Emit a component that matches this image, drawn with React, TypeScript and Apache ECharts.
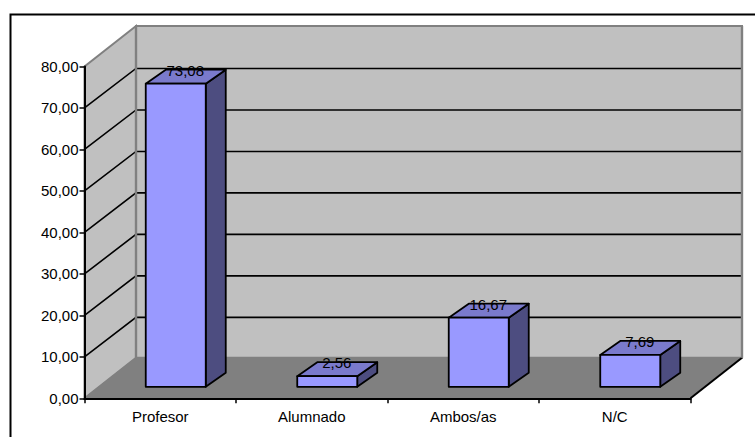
import React, { useEffect, useRef } from "react";
import * as echarts from "echarts";

const categories = ["Profesor", "Alumnado", "Ambos/as", "N/C"];
const values = [73.08, 2.56, 16.67, 7.69];
const valueLabels = ["73,08", "2,56", "16,67", "7,69"];
const gridValues = [10, 20, 30, 40, 50, 60, 70];
const yMin = 0;
const yMax = 80;
const yStep = 10;

const FONT = "'Liberation Sans', Arial, sans-serif";
const FONT_SIZE = 15;
const WALL_DX = 51.5;
const WALL_DY = -40.5;
const GRID_DY = -39.5;
const BAR_DX = 15.5;
const BAR_DY = -11.5;
const BAR_W = 60;
const SIDE_DX = 20;
const SIDE_DY = -14;
const comma = (v: number) => v.toFixed(2).replace(".", ",");

export default function App() {
  const ref = useRef<HTMLDivElement>(null);
  useEffect(() => {
    const chart = echarts.init(ref.current!, null, { renderer: "svg" });
    chart.setOption({
      animation: false,
      backgroundColor: "#ffffff",
      grid: { left: 84.5, right: 64.5, top: 66.5, bottom: 38.7 },
      graphic: [
        {
          type: "polyline",
          z: 0,
          shape: { points: [[10.5, 437], [10.5, 14.5], [755, 14.5]] },
          style: { stroke: "#000000", lineWidth: 2, fill: "none" },
        },
      ],
      xAxis: {
        type: "category",
        data: categories,
        z: 10,
        axisLine: { lineStyle: { color: "#000", width: 2 } },
        axisTick: { show: true, length: 5, lineStyle: { color: "#000", width: 1.5 } },
        axisLabel: { color: "#000", fontFamily: FONT, fontSize: FONT_SIZE, margin: 11 },
        splitLine: { show: false },
      },
      yAxis: {
        type: "value",
        min: yMin,
        max: yMax,
        interval: yStep,
        z: 10,
        axisLine: { show: true, lineStyle: { color: "#000", width: 2 } },
        axisTick: { show: true, length: 5, lineStyle: { color: "#000", width: 1.5 } },
        axisLabel: { color: "#000", fontFamily: FONT, fontSize: FONT_SIZE, margin: 6, formatter: comma },
        splitLine: { show: false },
      },
      series: [
        {
          type: "custom",
          z: 2,
          silent: true,
          data: [[0]],
          renderItem: (params: any, api: any) => {
            const cs = params.coordSys;
            const x0 = cs.x;
            const x1 = cs.x + cs.width;
            const yBot = api.coord([0, yMin])[1];
            const yTop = api.coord([0, yMax])[1];
            const edge = { stroke: "#808080", lineWidth: 2 };
            return {
              type: "group",
              children: [
                {
                  type: "polygon",
                  shape: { points: [[x0, yBot], [x0 + WALL_DX, yBot + WALL_DY], [x0 + WALL_DX, yTop + WALL_DY], [x0, yTop]] },
                  style: { fill: "#C0C0C0", ...edge },
                },
                {
                  type: "polygon",
                  shape: { points: [[x0 + WALL_DX, yBot + WALL_DY], [x1 + WALL_DX, yBot + WALL_DY], [x1 + WALL_DX, yTop + WALL_DY], [x0 + WALL_DX, yTop + WALL_DY]] },
                  style: { fill: "#C0C0C0", ...edge },
                },
                {
                  type: "polygon",
                  shape: { points: [[x0, yBot], [x1, yBot], [x1 + WALL_DX, yBot + WALL_DY], [x0 + WALL_DX, yBot + WALL_DY]] },
                  style: { fill: "#808080", stroke: "#808080", lineWidth: 1 },
                },
                {
                  type: "line",
                  shape: { x1, y1: yBot, x2: x1 + WALL_DX, y2: yBot + WALL_DY },
                  style: { stroke: "#000", lineWidth: 2 },
                },
              ],
            };
          },
        },
        {
          type: "custom",
          z: 3,
          silent: true,
          data: gridValues.map((v) => [0, v]),
          renderItem: (params: any, api: any) => {
            const cs = params.coordSys;
            const x0 = cs.x;
            const x1 = cs.x + cs.width;
            const y = api.coord([0, api.value(1)])[1];
            return {
              type: "polyline",
              shape: { points: [[x0, y], [x0 + WALL_DX, y + GRID_DY], [x1 + WALL_DX, y + GRID_DY]] },
              style: { stroke: "#000", lineWidth: 1.6, fill: "none" },
            };
          },
        },
        {
          type: "custom",
          z: 3,
          silent: true,
          data: [[0]],
          renderItem: (params: any, api: any) => {
            const cs = params.coordSys;
            const x0 = cs.x + WALL_DX;
            const x1 = cs.x + cs.width + WALL_DX;
            const yBot = api.coord([0, yMin])[1] + WALL_DY;
            const yTop = api.coord([0, yMax])[1] + WALL_DY;
            const edge = { stroke: "#808080", lineWidth: 2.4 };
            return {
              type: "group",
              children: [
                { type: "line", shape: { x1: x0, y1: yTop, x2: x0, y2: yBot }, style: edge },
                { type: "line", shape: { x1, y1: yTop, x2: x1, y2: yBot }, style: edge },
              ],
            };
          },
        },
        {
          type: "custom",
          z: 4,
          silent: true,
          data: categories.map((c, i) => [i, values[i]]),
          renderItem: (params: any, api: any) => {
            const i = api.value(0);
            const cx = api.coord([i, 0])[0] + BAR_DX;
            const yb = api.coord([i, 0])[1] + BAR_DY;
            const yt = api.coord([i, api.value(1)])[1] + BAR_DY;
            const l = cx - BAR_W / 2;
            const r = cx + BAR_W / 2;
            const line = { stroke: "#000", lineWidth: 1.8, lineJoin: "round" };
            return {
              type: "group",
              children: [
                {
                  type: "polygon",
                  shape: { points: [[r, yb], [r + SIDE_DX, yb + SIDE_DY], [r + SIDE_DX, yt + SIDE_DY], [r, yt]] },
                  style: { fill: "#4D4D80", ...line },
                },
                {
                  type: "polygon",
                  shape: { points: [[l, yt], [r, yt], [r + SIDE_DX, yt + SIDE_DY], [l + SIDE_DX, yt + SIDE_DY]] },
                  style: { fill: "#7A7ACC", ...line },
                },
                {
                  type: "polygon",
                  shape: { points: [[l, yb], [r, yb], [r, yt], [l, yt]] },
                  style: { fill: "#9999FF", ...line },
                },
                {
                  type: "text",
                  style: {
                    x: cx + 9.5,
                    y: yt - 13.5,
                    text: valueLabels[params.dataIndex],
                    fill: "#000",
                    font: `${FONT_SIZE}px ${FONT}`,
                    align: "center",
                    verticalAlign: "middle",
                  },
                },
              ],
            };
          },
        },
      ],
    });
    return () => chart.dispose();
  }, []);
  return <div ref={ref} style={{ position: "absolute", left: 0, top: 0, width: 755, height: 437 }} />;
}
